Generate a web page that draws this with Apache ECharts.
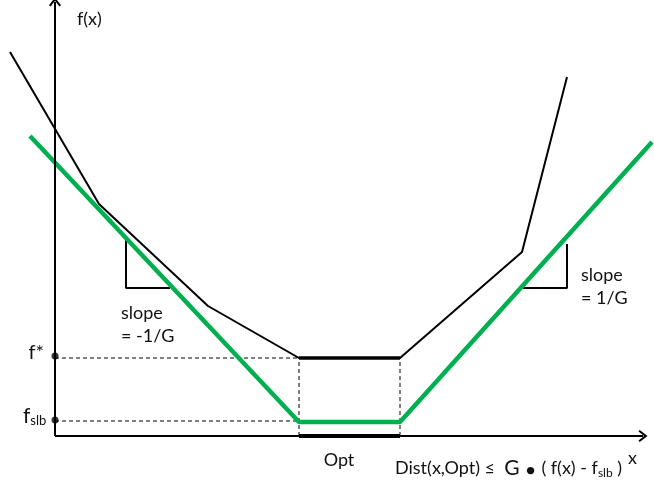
<!DOCTYPE html>
<html><head><meta charset="utf-8">
<script src="https://cdn.jsdelivr.net/npm/echarts@6/dist/echarts.min.js"></script>
<style>html,body{margin:0;padding:0;background:#fff}#c{width:654px;height:489px}</style>
</head><body><div id="c"></div>
<script>
// Data coordinates: origin where the two axes cross, 1 unit ~ 1 px
const fX = [-45, 44, 153, 244, 345, 467, 512];          // f(x) black curve
const fY = [384, 232, 130, 78, 78, 184, 359];
const lbX = [-25, 244, 345, 597];                        // green lower bound
const lbY = [300, 14, 14, 294];
const optRange = [244, 345];
const fStar = 78;
const fSlb = 15;
const yAxisTop = 434;
const xAxisEnd = 588;
const leftTri = {x: [71, 115], y: [198, 148]};
const rightTri = {x: [468, 512], y: [192, 148]};

const zip = (xs, ys) => xs.map((x, i) => [x, ys[i]]);
const FONT = 'Lato, "Open Sans", sans-serif';
const chevron = 'path://M0,8 L6,0 L12,8 L10.4,9.2 L6,3.4 L1.6,9.2 Z';

const seg = (pts, width, color, type) => ({
  type: 'line', data: pts, symbol: 'none', silent: true, animation: false,
  lineStyle: {color: color || '#000', width: width, type: type || 'solid'}, z: 2
});

const series = [
  // axes with arrows
  {
    type: 'line', data: [], symbol: 'none', silent: true, animation: false,
    markLine: {
      silent: true, animation: false, symbol: ['none', chevron], symbolSize: [12, 9],
      label: {show: false},
      lineStyle: {color: '#000', width: 2, type: 'solid'},
      data: [
        [{coord: [0, 0]}, {coord: [0, yAxisTop]}],
        [{coord: [0, 0]}, {coord: [xAxisEnd, 0]}]
      ]
    }
  },
  // dashed guides
  seg([[0, fStar], [optRange[0], fStar]], 1, '#000', [4, 3]),
  seg([[0, fSlb], [optRange[0], fSlb]], 1, '#000', [4, 3]),
  seg([[optRange[0], 0], [optRange[0], fStar]], 1, '#000', [4, 3]),
  seg([[optRange[1], 0], [optRange[1], fStar]], 1, '#000', [4, 3]),
  // f(x)
  seg(zip(fX, fY), 2, '#000'),
  seg([[optRange[0], fStar], [optRange[1], fStar]], 3.5, '#000'),
  // Opt on x-axis
  seg([[optRange[0], 0], [optRange[1], 0]], 4, '#000'),
  // slope triangles
  seg([[leftTri.x[0], leftTri.y[0]], [leftTri.x[0], leftTri.y[1]], [leftTri.x[1], leftTri.y[1]]], 2, '#000'),
  seg([[rightTri.x[0], rightTri.y[1]], [rightTri.x[1], rightTri.y[1]], [rightTri.x[1], rightTri.y[0]]], 2, '#000'),
  // green lower bound
  Object.assign(seg(zip(lbX, lbY), 4.5, '#00b050'), {z: 3}),
  // f* and fslb dots
  {type: 'scatter', data: [[0, fStar + 2], [0, fSlb + 1]], symbolSize: 7, itemStyle: {color: '#000'}, silent: true, animation: false, z: 4}
];

const txt = (x, y, text, extra) => ({
  type: 'text', x: x, y: y, silent: true, z: 10,
  style: Object.assign({text: text, font: '18px ' + FONT, fill: '#111', verticalAlign: 'middle', align: 'left'}, extra || {})
});

const chart = echarts.init(document.getElementById('c'), null, {renderer: 'canvas'});
chart.setOption({
  backgroundColor: '#fff',
  animation: false,
  grid: {left: 0, right: 0, top: 0, bottom: 0},
  xAxis: {type: 'value', min: -55, max: 599, show: false},
  yAxis: {type: 'value', min: -53, max: 436, show: false},
  series: series,
  graphic: [
    txt(77, 19, 'f(x)'),
    txt(121, 313, 'slope'),
    txt(121, 336, '= -1/G'),
    txt(581, 275, 'slope'),
    txt(581, 298, '= 1/G'),
    txt(44, 353, 'f*', {align: 'right', font: '20px ' + FONT}),
    txt(23, 416, '{f|f}{s|slb}', {rich: {
      f: {fontSize: 21, fontFamily: FONT, lineHeight: 22, fill: '#111'},
      s: {fontSize: 13, fontFamily: FONT, lineHeight: 8, verticalAlign: 'bottom', fill: '#111'}
    }}),
    txt(339, 460, 'Opt', {align: 'center'}),
    txt(395, 468, '{t|Dist(x,Opt) ≤  }{g|G}{d| • }{t|( f(x) - f}{s|slb}{t| )}', {rich: {
      t: {fontSize: 18, fontFamily: FONT, lineHeight: 22, fill: '#111'},
      g: {fontSize: 21, fontFamily: FONT, lineHeight: 22, fill: '#111'},
      d: {fontSize: 20, fontFamily: FONT, lineHeight: 22, fill: '#111', padding: [6, 0, 0, 0]},
      s: {fontSize: 12, fontFamily: FONT, lineHeight: 8, verticalAlign: 'bottom', fill: '#111'}
    }}),
    txt(628, 458, 'x')
  ]
});
</script></body></html>
